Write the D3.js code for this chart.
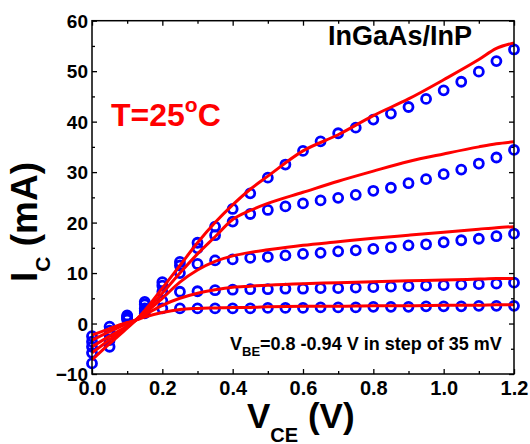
<!DOCTYPE html>
<html><head><meta charset="utf-8">
<script src="https://cdn.jsdelivr.net/npm/d3@7"></script>
<style>
html,body{margin:0;padding:0;background:#fff;}
svg{display:block;font-family:"Liberation Sans",Arial,sans-serif;font-weight:bold;}
</style></head>
<body>
<svg id="chart" width="530" height="444"></svg>
<script>
// Measured data (circles), V_CE in V, I_C in mA
const vceMeas = [0,0.05,0.1,0.15,0.2,0.25,0.3,0.35,0.4,0.45,0.5,0.55,0.6,0.65,0.7,0.75,0.8,0.85,0.9,0.95,1.0,1.05,1.1,1.15,1.2];
const meas1 = [-2.5,-0.6,1.6,2.0,3.0,3.0,3.0,3.0,3.0,3.0,3.1,3.1,3.1,3.2,3.2,3.2,3.3,3.3,3.3,3.4,3.4,3.4,3.5,3.5,3.5];
const meas2 = [-3.6,-1.4,1.4,2.5,4.5,6.3,6.4,6.6,6.7,6.8,6.8,6.9,6.9,7.0,7.0,7.1,7.2,7.3,7.4,7.5,7.6,7.7,7.8,7.9,8.1];
const meas3 = [-4.6,-2.3,1.2,3.0,6.3,10.0,11.8,12.5,12.7,13.0,13.2,13.5,13.8,14.0,14.3,14.5,14.8,15.1,15.5,15.7,16.1,16.5,16.8,17.3,17.8];
const meas4 = [-5.8,-3.3,1.0,3.8,7.5,11.5,14.9,17.5,20.2,21.7,22.5,23.2,23.8,24.4,24.9,25.5,26.3,26.9,27.8,28.6,29.6,30.5,31.7,32.9,34.4];
const meas5 = [-7.9,-4.6,0.8,4.3,8.2,12.2,16.0,19.2,22.7,25.8,28.9,31.5,34.2,36.1,37.7,38.8,40.4,41.6,42.9,44.5,46.2,47.9,49.9,52.0,54.3];

// Model fits (red lines)
const vceFit = [0,0.05,0.1,0.125,0.15,0.2,0.25,0.3,0.35,0.4,0.45,0.5,0.6,0.7,0.8,0.9,1.0,1.1,1.15,1.2];
const fit1 = [-2.3,-1.0,0.2,0.7,1.3,2.2,2.8,3.0,3.1,3.2,3.2,3.3,3.4,3.4,3.5,3.5,3.6,3.6,3.7,3.7];
const fit2 = [-3.3,-1.6,0.0,0.7,1.7,3.6,5.0,6.0,6.7,7.2,7.4,7.6,7.9,8.1,8.3,8.5,8.6,8.8,8.9,8.9];
const fit3 = [-4.6,-2.5,-0.5,0.7,2.0,5.0,8.2,10.6,12.3,13.4,14.1,14.6,15.5,16.2,16.9,17.5,18.1,18.7,19.0,19.2];
const fit4 = [-5.8,-3.2,-0.7,0.7,2.3,6.0,10.0,13.8,17.2,20.6,22.4,23.8,26.0,28.2,30.2,32.1,33.6,35.0,35.6,36.0];
const fit5 = [-7.2,-4.0,-0.9,0.7,2.6,7.0,11.5,16.0,20.0,23.5,26.6,29.2,34.2,37.4,41.2,44.5,48.3,52.3,54.5,55.6];

const xMajor = [0,0.2,0.4,0.6,0.8,1.0,1.2];
const xMinor = [0.1,0.3,0.5,0.7,0.9,1.1];
const yMajor = [-10,0,10,20,30,40,50,60];
const yMinor = [-5,5,15,25,35,45,55];

const svg = d3.select("#chart");
const L = 92, R = 514, T = 20.7, B = 374;
const x = d3.scaleLinear().domain([0,1.2]).range([L,R]);
const y = d3.scaleLinear().domain([-10,60]).range([B,T]);

// axes with inward ticks
function styleAxis(g){ g.select(".domain").remove(); g.selectAll("line").attr("stroke","#000").attr("stroke-width",1.3); }
const gB = svg.append("g").attr("transform",`translate(0,${B})`)
  .call(d3.axisBottom(x).tickValues(xMajor).tickSize(-5).tickFormat(d3.format(".1f")));
styleAxis(gB);
gB.selectAll("text").attr("y",21).attr("dy",0).attr("font-size",20).attr("font-weight","bold")
  .attr("font-family","Liberation Sans, Arial, sans-serif").attr("fill","#000");
svg.append("g").attr("transform",`translate(0,${B})`)
  .call(d3.axisBottom(x).tickValues(xMinor).tickSize(-3).tickFormat("")).call(styleAxis);
svg.append("g").attr("transform",`translate(0,${T})`)
  .call(d3.axisTop(x).tickValues(xMajor).tickSize(-5).tickFormat("")).call(styleAxis);
svg.append("g").attr("transform",`translate(0,${T})`)
  .call(d3.axisTop(x).tickValues(xMinor).tickSize(-3).tickFormat("")).call(styleAxis);

const gL = svg.append("g").attr("transform",`translate(${L},0)`)
  .call(d3.axisLeft(y).tickValues(yMajor).tickSize(-5).tickFormat(d3.format("d")));
styleAxis(gL);
gL.selectAll("text").attr("x",-4).attr("dy","0.35em").attr("font-size",19).attr("font-weight","bold")
  .attr("font-family","Liberation Sans, Arial, sans-serif").attr("fill","#000");
svg.append("g").attr("transform",`translate(${L},0)`)
  .call(d3.axisLeft(y).tickValues(yMinor).tickSize(-3).tickFormat("")).call(styleAxis);
svg.append("g").attr("transform",`translate(${R},0)`)
  .call(d3.axisRight(y).tickValues(yMajor).tickSize(-5).tickFormat("")).call(styleAxis);
svg.append("g").attr("transform",`translate(${R},0)`)
  .call(d3.axisRight(y).tickValues(yMinor).tickSize(-3).tickFormat("")).call(styleAxis);

// measured circles
const measSets = [meas1,meas2,meas3,meas4,meas5];
const gM = svg.append("g");
measSets.forEach(arr=>{
  gM.selectAll(null).data(arr.map((v,i)=>[vceMeas[i],v])).enter().append("circle")
    .attr("cx",d=>x(d[0])).attr("cy",d=>y(d[1])).attr("r",4.5)
    .attr("fill","none").attr("stroke","#0000ff").attr("stroke-width",2.8);
});

// fit lines
const fitSets = [fit1,fit2,fit3,fit4,fit5];
const line = d3.line().x(d=>x(d[0])).y(d=>y(d[1])).curve(d3.curveMonotoneX);
fitSets.forEach(arr=>{
  svg.append("path").datum(arr.map((v,i)=>[vceFit[i],v])).attr("d",line)
    .attr("fill","none").attr("stroke","#ff0000").attr("stroke-width",3);
});

// frame
svg.append("rect").attr("x",L).attr("y",T).attr("width",R-L).attr("height",B-T)
  .attr("fill","none").attr("stroke","#000").attr("stroke-width",1.5);

// annotations
svg.append("text").attr("x",328).attr("y",45).attr("font-size",27).attr("fill","#000").text("InGaAs/InP");

const tt = svg.append("text").attr("x",111).attr("y",126).attr("font-size",32).attr("fill","#ff0000");
tt.append("tspan").text("T=25");
tt.append("tspan").attr("font-size",21).attr("dy",-14).text("o");
tt.append("tspan").attr("dy",14).text("C");

const vb = svg.append("text").attr("x",230).attr("y",350).attr("font-size",18).attr("fill","#000");
vb.append("tspan").text("V");
vb.append("tspan").attr("font-size",13).attr("dy",6).text("BE");
vb.append("tspan").attr("dy",-6).text("=0.8 -0.94 V in step of 35 mV");

// axis titles
const xt = svg.append("text").attr("x",247).attr("y",428).attr("font-size",35).attr("fill","#000");
xt.append("tspan").text("V");
xt.append("tspan").attr("font-size",20).attr("dy",14).text("CE");
xt.append("tspan").attr("dy",-14).text(" (V)");

const yt = svg.append("text").attr("transform","translate(37,222) rotate(-90)")
  .attr("text-anchor","middle").attr("font-size",37).attr("fill","#000");
yt.append("tspan").text("I");
yt.append("tspan").attr("font-size",21).attr("dy",13).text("C");
yt.append("tspan").attr("dy",-13).text(" (mA)");
</script>
</body></html>
